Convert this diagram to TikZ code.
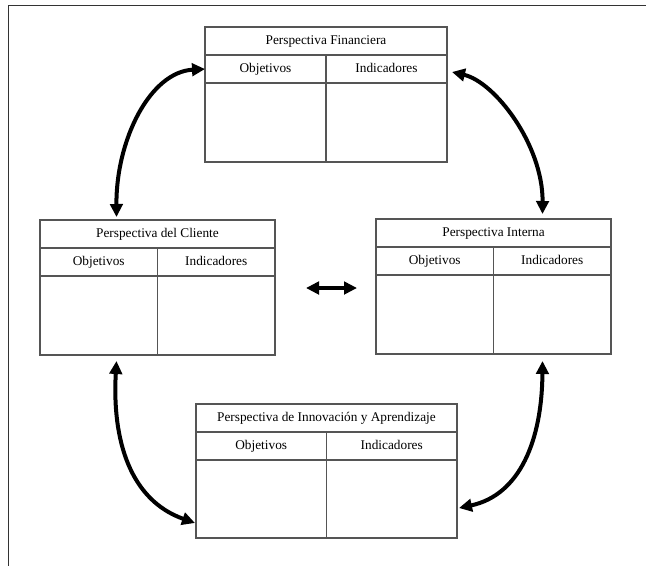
\documentclass[tikz,border=0pt]{standalone}
\usepackage{fontspec}
\setmainfont{Liberation Serif}
\usetikzlibrary{arrows.meta}

\definecolor{rule}{HTML}{555555}
\definecolor{frameline}{HTML}{333333}

\tikzset{
  cellbox/.style={draw=rule, line width=1.4pt, rectangle, inner sep=0pt, outer sep=0pt,
    text height=9.5pt, text depth=3pt,
    font=\fontsize{13.3}{15}\selectfont, text=black},
  link/.style={line width=4pt, black, {Triangle[length=13pt,width=12.5pt]}-{Triangle[length=13pt,width=12.5pt]}},
  frameedge/.style={draw=frameline, line width=1pt}
}

% #1 name, #2 left, #3 top, #4 width, #5 height, #6 title
\newcommand\bsctable[6]{%
  \node[cellbox, minimum width=#4pt, minimum height=#5pt, anchor=north west] (#1) at (#2,#3) {};
  \node[cellbox, minimum width=#4pt, minimum height=28pt, anchor=north west] (#1-t) at (#1.north west) {#6};
  \node[cellbox, minimum width=0.5*#4pt, minimum height=28pt, anchor=north west] (#1-o) at (#1-t.south west) {Objetivos};
  \node[cellbox, minimum width=0.5*#4pt, minimum height=28pt, anchor=north west] (#1-i) at (#1-o.north east) {Indicadores};
  \node[cellbox, minimum width=0.5*#4pt, minimum height=#5pt-56pt, anchor=north west] (#1-bo) at (#1-o.south west) {};
  \node[cellbox, minimum width=0.5*#4pt, minimum height=#5pt-56pt, anchor=north west] (#1-bi) at (#1-i.south west) {};
}

\begin{document}
\begin{tikzpicture}[x=1pt, y=-1pt]
  \useasboundingbox[fill=white] (0,0) rectangle (646,566);

  % outer frame (top and left edges)
  \coordinate (fr-tl) at (8,5);
  \coordinate (fr-tr) at (646,5);
  \coordinate (fr-bl) at (8,566);
  \draw[frameedge] (fr-tr) -- (fr-tl) -- (fr-bl);

  % the four perspectives
  \bsctable{fin}{205}{27}{242}{135}{Perspectiva Financiera}
  \bsctable{cli}{40}{220}{235}{135}{Perspectiva del Cliente}
  \bsctable{int}{376}{219}{235}{135}{Perspectiva Interna}
  \bsctable{inn}{196}{404}{261}{134}{Perspectiva de Innovación y Aprendizaje}

  % arrow end points on the tables
  \coordinate (a1s) at ([shift={(-41,-3)}]cli.north);
  \coordinate (a1e) at (fin-o.west);
  \coordinate (a2s) at ([shift={(5,3)}]fin-i.east);
  \coordinate (a2e) at ([shift={(49,-5)}]int.north);
  \coordinate (a3s) at ([shift={(-41,6)}]cli.south);
  \coordinate (a3e) at ([shift={(-1,-15)}]inn.south west);
  \coordinate (a4s) at ([shift={(49,7)}]int.south);
  \coordinate (a4e) at ([shift={(2,-30)}]inn.south east);
  \coordinate (mid-l) at (306,288);
  \coordinate (mid-r) at (357,288);

  % connecting arrows
  \draw[link] (a1s) .. controls (116,140) and (150,72) .. (a1e);
  \draw[link] (a2s) .. controls (495,82) and (543,145) .. (a2e);
  \draw[link] (a3s) .. controls (112,440) and (130,500) .. (a3e);
  \draw[link] (a4s) .. controls (542,440) and (520,495) .. (a4e);
  \draw[link] (mid-l) -- (mid-r);
\end{tikzpicture}
\end{document}
